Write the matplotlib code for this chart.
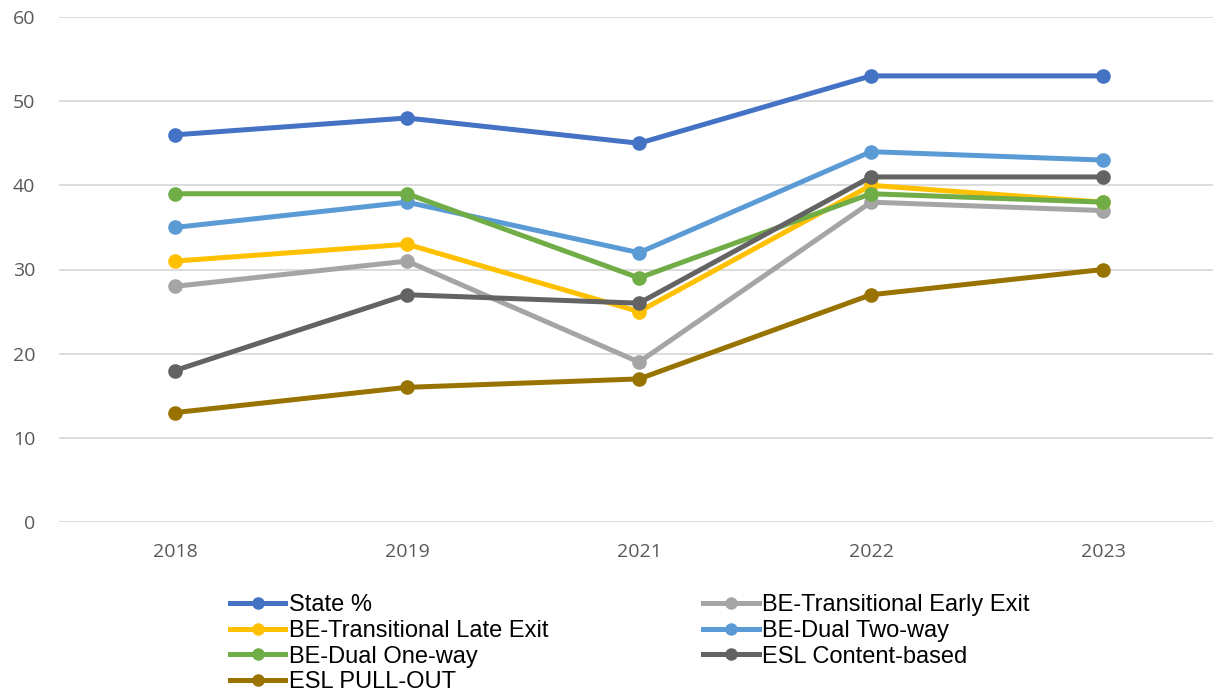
import matplotlib.pyplot as plt
from matplotlib.lines import Line2D

years = ["2018", "2019", "2021", "2022", "2023"]

series_names = ["State %", "BE-Transitional Early Exit", "BE-Transitional Late Exit",
                "BE-Dual Two-way", "BE-Dual One-way", "ESL Content-based", "ESL PULL-OUT"]
state = [46, 48, 45, 53, 53]
early_exit = [28, 31, 19, 38, 37]
late_exit = [31, 33, 25, 40, 38]
dual_two_way = [35, 38, 32, 44, 43]
dual_one_way = [39, 39, 29, 39, 38]
esl_content = [18, 27, 26, 41, 41]
esl_pullout = [13, 16, 17, 27, 30]

colors = ["#4472C4", "#A5A5A5", "#FFC000", "#5B9BD5", "#70AD47", "#636363", "#997300"]
all_values = [state, early_exit, late_exit, dual_two_way, dual_one_way, esl_content, esl_pullout]

fig = plt.figure(figsize=(12.13, 6.96), dpi=100)
ax = fig.add_axes([59 / 1213, 174 / 696, 1160 / 1213, 505 / 696])

x = list(range(len(years)))
for name, vals, c in zip(series_names, all_values, colors):
    ax.plot(x, vals, color=c, linewidth=3.6, marker='o', markersize=9.5,
            solid_capstyle='round', label=name)

ax.set_xlim(-0.5, 4.5)
ax.set_ylim(0, 60)
ax.set_yticks(range(0, 61, 10))
ax.set_xticks(x)
ax.set_xticklabels(years)
ax.grid(axis='y', color='#D9D9D9', linewidth=1.3)
ax.set_axisbelow(True)
for s in ax.spines.values():
    s.set_visible(False)
ax.tick_params(length=0, labelsize=14, labelcolor='#595959')
ax.tick_params(axis='x', pad=15)
ax.tick_params(axis='y', pad=17)
for lbl in ax.get_xticklabels() + ax.get_yticklabels():
    lbl.set_fontfamily('Open Sans')

# legend entries go row by row in the reference, matplotlib fills by column
handles = [Line2D([], [], color=c, linewidth=3.6, marker='o', markersize=8) for c in colors]
order = [0, 2, 4, 6, 1, 3, 5]
leg = fig.legend([handles[i] for i in order], [series_names[i] for i in order],
                 loc='upper left', bbox_to_anchor=(230 / 1213, 1 - 594 / 696),
                 ncol=2, frameon=False, borderpad=0, borderaxespad=0,
                 handlelength=2.35, handletextpad=0.15, columnspacing=6.55,
                 labelspacing=0.16, prop={'family': 'Liberation Sans', 'size': 17})

fig.savefig("out.png", dpi=100)
